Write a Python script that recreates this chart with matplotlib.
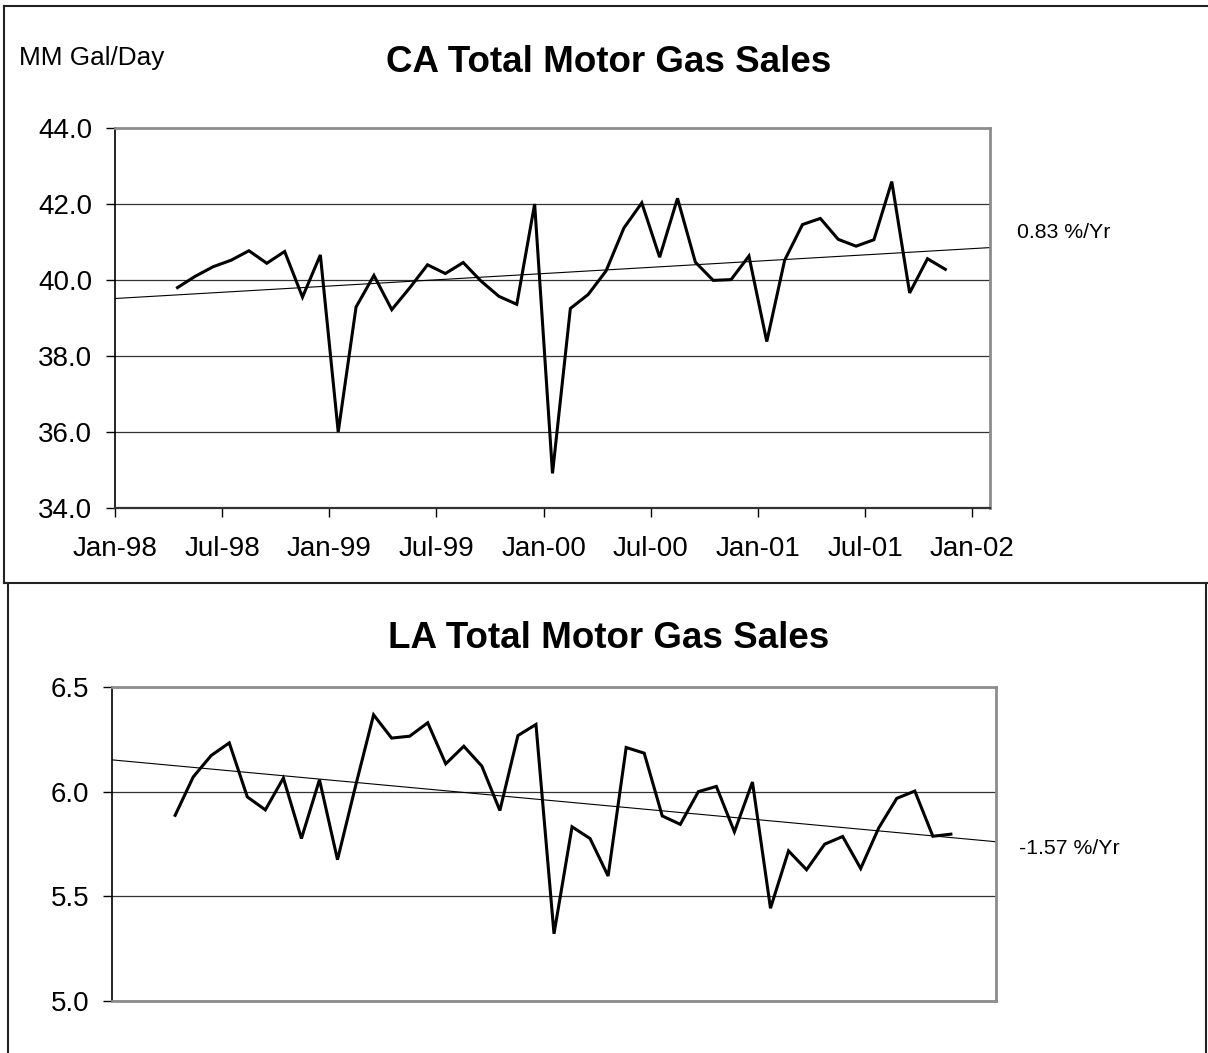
import matplotlib
matplotlib.use("Agg")
import matplotlib.pyplot as plt
from matplotlib.lines import Line2D
from matplotlib.ticker import FormatStrFormatter
import numpy as np
import pandas as pd

plt.rcParams["font.family"] = ["Liberation Sans", "DejaVu Sans"]

# ---------------------------------------------------------------------------
# Data (MM gal/day, monthly, Apr-98 .. Nov-01)
# ---------------------------------------------------------------------------
months = pd.period_range("1998-04", "2001-11", freq="M")

ca_sales = [
    39.80, 40.10, 40.35, 40.52, 40.77, 40.44, 40.75, 39.55, 40.66,
    36.00, 39.29, 40.12, 39.22, 39.79, 40.40, 40.17, 40.46, 39.97, 39.57, 39.36, 42.00,
    34.91, 39.25, 39.62, 40.24, 41.37, 42.03, 40.60, 42.15, 40.47, 39.99, 40.01, 40.63,
    38.38, 40.52, 41.46, 41.62, 41.07, 40.89, 41.06, 42.59, 39.66, 40.56, 40.28,
]

la_sales = [
    5.887, 6.070, 6.173, 6.233, 5.975, 5.913, 6.065, 5.776, 6.057,
    5.675, 6.027, 6.367, 6.256, 6.265, 6.329, 6.133, 6.217, 6.122, 5.910, 6.268, 6.321,
    5.321, 5.832, 5.776, 5.597, 6.211, 6.184, 5.884, 5.844, 6.000, 6.025, 5.808, 6.046,
    5.443, 5.717, 5.627, 5.749, 5.786, 5.633, 5.827, 5.968, 6.003, 5.787, 5.797,
]

tick_labels = ["Jan-98", "Jul-98", "Jan-99", "Jul-99", "Jan-00",
               "Jul-00", "Jan-01", "Jul-01", "Jan-02"]

ca_title = "CA Total Motor Gas Sales"
la_title = "LA Total Motor Gas Sales"
ca_trend_label = "0.83 %/Yr"
la_trend_label = "-1.57 %/Yr"
unit_label = "MM Gal/Day"

ca_yticks = [34.0, 36.0, 38.0, 40.0, 42.0, 44.0]
la_yticks = [5.0, 5.5, 6.0, 6.5]

# ---------------------------------------------------------------------------
# Layout helpers (pixel -> figure fraction)
# ---------------------------------------------------------------------------
W, H = 1208, 1053


def fx(px):
    return px / W


def fy(py):
    return 1 - py / H


def axes_rect(left, top, right, bottom):
    return [fx(left), fy(bottom), (right - left) / W, (bottom - top) / H]


# month index from Jan-98, points sit mid-month
x = np.array((months.year - 1998) * 12 + months.month - 1) + 0.5
X_MAX = 49


def draw_panel(ax, values, yticks, show_xlabels):
    ax.plot(x, values, color="black", lw=2.2, solid_joinstyle="miter", zorder=3)

    # linear trend, extended over the whole axis
    coef = np.polyfit(x, values, 1)
    xt = np.array([0, X_MAX])
    ax.plot(xt, np.polyval(coef, xt), color="black", lw=0.8, zorder=2)

    ax.set_xlim(0, X_MAX)
    ax.set_ylim(yticks[0], yticks[-1])
    ax.set_yticks(yticks)
    ax.yaxis.set_major_formatter(FormatStrFormatter("%.1f"))
    ax.yaxis.grid(True, color="#333333", lw=0.9)
    ax.set_axisbelow(True)

    for s in ["top", "right", "bottom"]:
        ax.spines[s].set_color("#8c8c8c")
        ax.spines[s].set_linewidth(2)
    ax.spines["left"].set_color("black")
    ax.spines["left"].set_linewidth(1.2)
    ax.tick_params(axis="y", direction="out", length=6.5, width=1,
                   pad=10, labelsize=20)

    if show_xlabels:
        ax.spines["bottom"].set_color("#333333")
        ax.spines["bottom"].set_linewidth(1.6)
        ax.set_xticks(np.arange(0, X_MAX, 6))
        ax.set_xticklabels(tick_labels)
        ax.tick_params(axis="x", direction="out", length=6.5, width=1,
                       pad=14, labelsize=20)
    else:
        ax.set_xticks([])


fig = plt.figure(figsize=(W / 100, H / 100), dpi=100)
fig.patch.set_facecolor("white")

ca_ax = fig.add_axes(axes_rect(115, 128, 990, 508))
draw_panel(ca_ax, ca_sales, ca_yticks, True)

la_ax = fig.add_axes(axes_rect(112, 687, 996, 1001))
draw_panel(la_ax, la_sales, la_yticks, False)

# titles and side labels
fig.text(fx(609), fy(72), ca_title, ha="center", va="baseline",
         fontsize=26.5, fontweight="bold")
fig.text(fx(609), fy(648), la_title, ha="center", va="baseline",
         fontsize=26.5, fontweight="bold")
fig.text(fx(19), fy(65), unit_label, ha="left", va="baseline", fontsize=18.8)
fig.text(fx(1017), fy(238), ca_trend_label, ha="left", va="baseline", fontsize=15.3)
fig.text(fx(1019), fy(854), la_trend_label, ha="left", va="baseline", fontsize=15.3)

# panel frames
frame = dict(color="#222222", lw=1.5, transform=fig.transFigure)
fig.add_artist(Line2D([fx(4), 1], [fy(6), fy(6)], **frame))
fig.add_artist(Line2D([fx(4), fx(4)], [fy(6), fy(583)], **frame))
fig.add_artist(Line2D([fx(4), 1], [fy(583), fy(583)], **frame))
fig.add_artist(Line2D([fx(8), fx(8)], [fy(583), 0], **frame))
fig.add_artist(Line2D([fx(1206), fx(1206)], [fy(583), 0], **frame))

fig.savefig("out.png", dpi=100, facecolor="white")
